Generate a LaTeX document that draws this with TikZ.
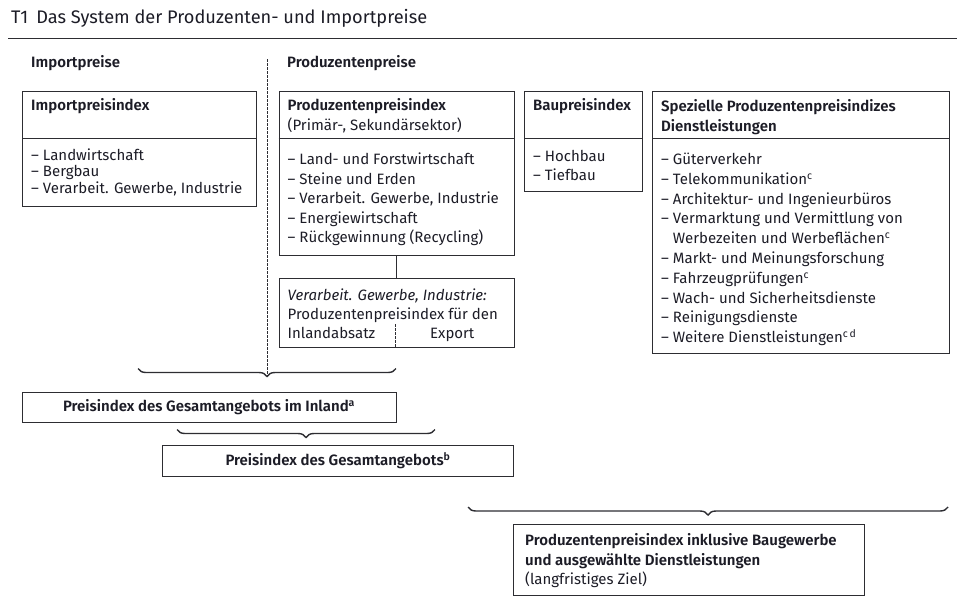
\documentclass[tikz,border=0pt]{standalone}
\usepackage{fontspec}
\setmainfont{Fira Sans}[BoldFont={Fira Sans SemiBold}]
\usetikzlibrary{decorations.pathreplacing}
\definecolor{textc}{RGB}{28,28,38}
\definecolor{linec}{RGB}{45,45,50}
\newcommand{\tlines}[1]{\begin{tabular}[t]{@{}l@{}}#1\end{tabular}}
\newcommand{\ind}{\phantom{– }}
\begin{document}
\begin{tikzpicture}[x=1pt,y=-1pt,
  box/.style={draw=linec, line width=0.9pt, anchor=north west, inner sep=0pt},
  cbox/.style={draw=linec, line width=0.9pt, inner sep=0pt, text=textc, font=\fontsize{15}{17}\selectfont\bfseries},
  txt/.style={anchor=base west, inner sep=0pt, text=textc, font=\fontsize{15}{#1}\selectfont},
  txt/.default=19,
  hd/.style={anchor=base west, inner sep=0pt, text=textc, font=\fontsize{15}{#1}\selectfont\bfseries},
  hd/.default=17,
  divline/.style={draw=linec, line width=0.9pt},
  dashline/.style={draw=linec, line width=0.8pt, dash pattern=on 2.5pt off 1.5pt},
  bracepath/.style={draw=linec, line width=1.4pt, decorate, decoration={brace, amplitude=8pt}}
]
\useasboundingbox (0,0) rectangle (966,608);

% title and rule
\node[anchor=base west, inner sep=0pt, text=textc, font=\fontsize{18.2}{20}\selectfont] (title) at (11,23) {T1\hspace{0.45em}Das System der Produzenten- und Importpreise};
\coordinate (r1) at (8,38.3);
\coordinate (r2) at (957,38.3);
\draw[draw=linec, line width=1.3pt] (r1) -- (r2);

% section headings
\node[hd] (himp) at (31,67.5) {Importpreise};
\node[hd] (hprod) at (287,67.5) {Produzentenpreise};

% dashed separator
\coordinate (d1) at (267,59);
\coordinate (d2) at (267,376);
\draw[dashline] (d1) -- (d2);

% Importpreisindex
\node[box, minimum width=234, minimum height=114.5] (imp) at (22,91) {};
\draw[divline] (imp.west |- 0,138) -- (imp.east |- 0,138);
\node[hd] (impH) at (31,110.5) {Importpreisindex};
\node[txt=16.8] (impL) at (31,160) {\tlines{– Landwirtschaft\\ – Bergbau\\ – Verarbeit. Gewerbe, Industrie}};

% Produzentenpreisindex
\node[box, minimum width=235, minimum height=163.5] (prod) at (278.5,91) {};
\draw[divline] (prod.west |- 0,138) -- (prod.east |- 0,138);
\node[hd] (prodH) at (287.5,110.5) {Produzentenpreisindex};
\node[txt] (prodH2) at (287.5,130) {(Primär-, Sekundärsektor)};
\node[txt=19.5] (prodL) at (287.5,164.5) {\tlines{– Land- und Forstwirtschaft\\ – Steine und Erden\\ – Verarbeit. Gewerbe, Industrie\\ – Energiewirtschaft\\ – Rückgewinnung (Recycling)}};

% Verarbeit. Gewerbe box
\node[box, minimum width=235, minimum height=69] (ver) at (278.5,278) {};
\draw[divline] (prod.south) -- (ver.north);
\node[txt=19] (verL) at (287.5,300) {\tlines{\itshape Verarbeit. Gewerbe, Industrie:\\ Produzentenpreisindex für den\\ Inlandabsatz}};
\node[txt] (verE) at (430,338) {Export};
\coordinate (vd) at (395,324);
\draw[dashline] (vd) -- (vd |- ver.south);

% Baupreisindex
\node[box, minimum width=118, minimum height=100] (bau) at (524,91) {};
\draw[divline] (bau.west |- 0,138) -- (bau.east |- 0,138);
\node[hd] (bauH) at (533,110.5) {Baupreisindex};
\node[txt=19] (bauL) at (533,161.5) {\tlines{– Hochbau\\ – Tiefbau}};

% Spezielle Produzentenpreisindizes
\node[box, minimum width=296.5, minimum height=262] (spez) at (652,91) {};
\draw[divline] (spez.west |- 0,138) -- (spez.east |- 0,138);
\node[hd=20.5] (spezH) at (661,111) {\tlines{Spezielle Produzentenpreisindizes\\ Dienstleistungen}};
\node[txt=19.8] (spezL) at (661,164.5) {\tlines{– Güterverkehr\\ – Telekommunikation\textsuperscript{c}\\ – Architektur- und Ingenieurbüros\\ – Vermarktung und Vermittlung von\\ \ind Werbezeiten und Werbeflächen\textsuperscript{c}\\ – Markt- und Meinungsforschung\\ – Fahrzeugprüfungen\textsuperscript{c}\\ – Wach- und Sicherheitsdienste\\ – Reinigungsdienste\\ – Weitere Dienstleistungen\textsuperscript{c\,d}}};

% brace 1 and Inland box
\coordinate (b1r) at (396,368.5);
\coordinate (b1l) at (138,368.5);
\draw[bracepath] (b1r) -- (b1l);
\node[cbox, minimum width=374, minimum height=30] (inl) at (209,407.2) {Preisindex des Gesamtangebots im Inland\textsuperscript{a}};

% brace 2 and Gesamt box
\coordinate (b2r) at (435,429.5);
\coordinate (b2l) at (177,429.5);
\draw[bracepath] (b2r) -- (b2l);
\node[cbox, minimum width=351, minimum height=30.5] (ges) at (338,461) {Preisindex des Gesamtangebots\textsuperscript{b}};

% brace 3 and target box
\coordinate (b3r) at (948,507);
\coordinate (b3l) at (468,507);
\draw[bracepath] (b3r) -- (b3l);
\node[box, minimum width=351, minimum height=71] (ziel) at (513,524) {};
\node[hd=19.5] (zielH) at (525,545.5) {\tlines{Produzentenpreisindex inklusive Baugewerbe\\ und ausgewählte Dienstleistungen}};
\node[txt] (zielL) at (525,584) {(langfristiges Ziel)};
\end{tikzpicture}
\end{document}
